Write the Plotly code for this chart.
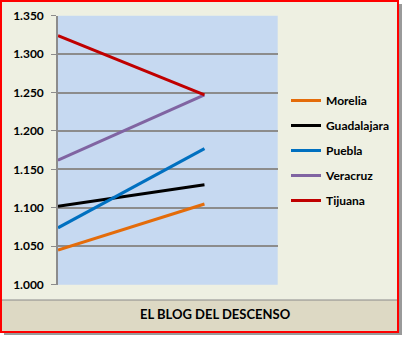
import plotly.graph_objects as go

W, H = 404, 337
categories = [0, 1]
series_names = ["Morelia", "Guadalajara", "Puebla", "Veracruz", "Tijuana"]
morelia = [1.045, 1.105]
guadalajara = [1.102, 1.130]
puebla = [1.074, 1.177]
veracruz = [1.162, 1.247]
tijuana = [1.324, 1.247]
values = [morelia, guadalajara, puebla, veracruz, tijuana]
colors = ["#E46C0A", "#000000", "#0070C0", "#8064A2", "#C00000"]
tick_vals = [1.0, 1.05, 1.1, 1.15, 1.2, 1.25, 1.3, 1.35]
title_text = "EL BLOG DEL DESCENSO"

FONT = "Lato"

fig = go.Figure()
for i, (name, vals, col) in enumerate(zip(series_names, values, colors)):
    fig.add_trace(go.Scatter(x=categories, y=vals, mode="lines", name=name,
                             line=dict(color=col, width=3), legendgroup=str(i)))

def px(x):
    return x / W

def py(y):
    return 1 - y / H

PL, PR, PT, PB = 58, 277.7, 15.7, 284.7

shapes = [
    # shadow
    dict(type="rect", xref="paper", yref="paper", x0=px(4), x1=px(402), y0=py(335), y1=py(4),
         fillcolor="#9a9a9a", line=dict(width=0), layer="below"),
    # chart area background
    dict(type="rect", xref="paper", yref="paper", x0=px(1), x1=px(398), y0=py(332), y1=py(1),
         fillcolor="#EEF0E2", line=dict(width=0), layer="below"),
    # plot area background
    dict(type="rect", xref="paper", yref="paper", x0=px(PL), x1=px(PR), y0=py(PB), y1=py(PT),
         fillcolor="#C6D9F1", line=dict(width=0), layer="below"),
    # bottom band
    dict(type="rect", xref="paper", yref="paper", x0=px(1), x1=px(398), y0=py(332), y1=py(300),
         fillcolor="#DDD9C4", line=dict(color="#8a8a8a", width=1), layer="below"),
    # red border
    dict(type="rect", xref="paper", yref="paper", x0=px(1), x1=px(398), y0=py(332), y1=py(1),
         fillcolor="rgba(0,0,0,0)", line=dict(color="#FF0000", width=2), layer="above"),
]

fig.update_layout(
    width=W, height=H,
    margin=dict(l=0, r=0, t=0, b=0),
    paper_bgcolor="white",
    plot_bgcolor="#C6D9F1",
    font=dict(family=FONT, size=12, color="#000000"),
    shapes=shapes,
    showlegend=True,
    legend=dict(x=px(286), y=py(86), xanchor="left", yanchor="top",
                bgcolor="rgba(0,0,0,0)", tracegroupgap=6,
                font=dict(family=FONT, size=12, color="#000000", weight="bold")),
    annotations=[dict(text="<b>" + title_text + "</b>", xref="paper", yref="paper",
                      x=px(215), y=py(314), xanchor="center", yanchor="middle",
                      showarrow=False, font=dict(family=FONT, size=13, color="#000000"))],
    xaxis=dict(domain=[px(PL), px(PR)], range=[0, 1.5], showticklabels=False,
               showgrid=False, zeroline=False, showline=False, fixedrange=True),
    yaxis=dict(domain=[py(PB), py(PT)], range=[1.0, 1.35], tickvals=tick_vals,
               tickformat=".3f", showgrid=True, gridcolor="#8C8C8C", gridwidth=1.5,
               zeroline=False, showline=True, linecolor="#8C8C8C", linewidth=1.5,
               ticks="outside", ticklen=5, tickcolor="#8C8C8C", automargin=False,
               ticklabelstandoff=5,
               tickfont=dict(family=FONT, size=12, color="#000000", weight="bold")),
)

fig.write_html("out.html")
